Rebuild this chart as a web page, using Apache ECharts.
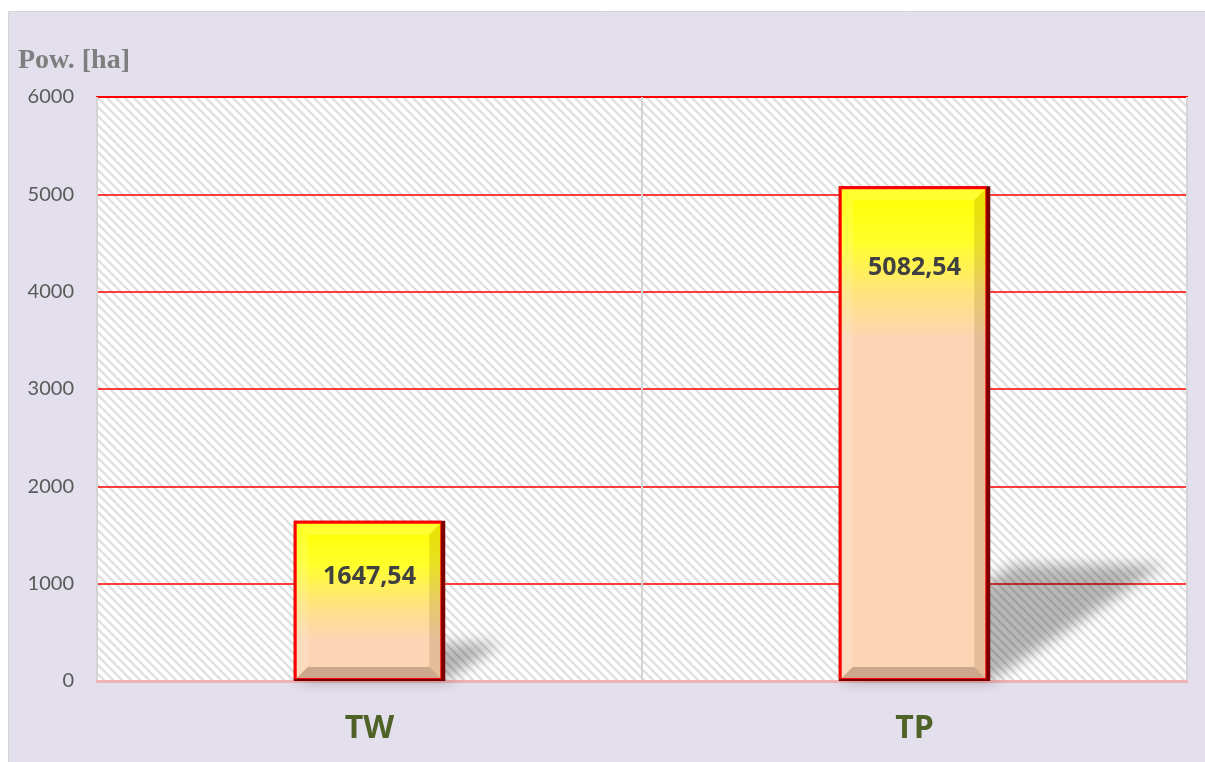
<!DOCTYPE html>
<html>
<head>
<meta charset="utf-8">
<script src="https://cdn.jsdelivr.net/npm/echarts@6/dist/echarts.min.js"></script>
<style>
html,body{margin:0;padding:0;background:#ffffff;}
#chart{width:1205px;height:762px;}
</style>
</head>
<body>
<div id="chart"></div>
<script>
// ---- data ----
const categories = ['TW', 'TP'];
const values = [1647.54, 5082.54];
const valueLabels = ['1647,54', '5082,54'];
const yTickValues = [0, 1000, 2000, 3000, 4000, 5000, 6000];
const axisTitle = 'Pow. [ha]';

// ---- styling helpers ----
const labelOffsets = [56, 82];

function hatchPattern() {
  const c = document.createElement('canvas');
  c.width = 9; c.height = 9;
  const g = c.getContext('2d');
  g.fillStyle = '#ffffff';
  g.fillRect(0, 0, 9, 9);
  g.strokeStyle = '#e0e0e0';
  g.lineWidth = 2.4;
  for (let k = -9; k <= 9; k += 9) {
    g.beginPath();
    g.moveTo(k - 2, -2);
    g.lineTo(k + 11, 11);
    g.stroke();
  }
  return c;
}

const chart = echarts.init(document.getElementById('chart'), null, { renderer: 'canvas' });

function renderBar(params, api) {
  const i = api.value(0);
  const v = api.value(1);
  const top = api.coord([i, v]);
  const base = api.coord([i, 0]);
  const bw = api.size([1, 0])[0] * 0.278;
  const xL = top[0] - bw / 2, xR = top[0] + bw / 2;
  const yT = top[1], yB = base[1];
  const H = yB - yT;
  const sh = H * 0.235, dx = sh * 1.5;
  const OFF = 4000;
  const shadow = {
    type: 'polygon',
    z2: 1,
    shape: { points: [[xL - OFF, yB], [xR - OFF, yB], [xR + dx - OFF, yB - sh], [xL + dx - OFF, yB - sh]] },
    style: { fill: '#000', shadowBlur: 14, shadowColor: 'rgba(0,0,0,0.28)', shadowOffsetX: OFF, shadowOffsetY: 0 }
  };
  const outer = { type: 'rect', z2: 2, shape: { x: xL, y: yT, width: bw, height: H }, style: { fill: '#7a0000' } };
  const red = { type: 'rect', z2: 3, shape: { x: xL, y: yT, width: bw - 4, height: H - 2 }, style: { fill: '#ff0000' } };
  const ix = xL + 3, iy = yT + 3, iw = bw - 8, ih = H - 6;
  const L = Math.min(150, ih * 0.75);
  const body = {
    type: 'rect', z2: 4,
    shape: { x: ix, y: iy, width: iw, height: ih },
    style: {
      fill: {
        type: 'linear', x: 0, y: iy, x2: 0, y2: iy + L, global: true,
        colorStops: [
          { offset: 0, color: '#ffff00' },
          { offset: 0.35, color: '#ffff2a' },
          { offset: 0.7, color: '#ffe380' },
          { offset: 1, color: '#fcd5b5' }
        ]
      }
    }
  };
  const b = 11;
  const bevels = [
    { pts: [[ix, iy], [ix + iw, iy], [ix + iw - b, iy + b], [ix + b, iy + b]], fill: 'rgba(255,255,255,0.18)' },
    { pts: [[ix, iy], [ix + b, iy + b], [ix + b, iy + ih - b], [ix, iy + ih]], fill: 'rgba(255,255,255,0.14)' },
    { pts: [[ix + iw, iy], [ix + iw, iy + ih], [ix + iw - b, iy + ih - b], [ix + iw - b, iy + b]], fill: 'rgba(110,70,0,0.16)' },
    { pts: [[ix, iy + ih], [ix + iw, iy + ih], [ix + iw - b, iy + ih - b], [ix + b, iy + ih - b]], fill: 'rgba(60,40,20,0.26)' }
  ].map(o => ({ type: 'polygon', z2: 5, shape: { points: o.pts }, style: { fill: o.fill } }));
  const label = {
    type: 'text', z2: 6,
    x: top[0], y: yT + labelOffsets[params.dataIndex],
    style: {
      text: valueLabels[params.dataIndex],
      fill: '#404040',
      font: 'bold 25px "Open Sans", Lato, sans-serif',
      align: 'center', verticalAlign: 'middle'
    }
  };
  return { type: 'group', children: [shadow, outer, red, body].concat(bevels, [label]) };
}

const option = {
  backgroundColor: 'transparent',
  animation: false,
  graphic: [{
    type: 'rect', z: -10, silent: true,
    shape: { x: 8.5, y: 11.5, width: 1300, height: 900 },
    style: { fill: '#e4dfec', stroke: '#d6d6d6', lineWidth: 1 }
  }],
  title: {
    text: axisTitle, left: 13, top: 42,
    textStyle: { fontFamily: '"Liberation Serif", serif', fontWeight: 'bold', fontSize: 28, color: '#7f7f7f' }
  },
  grid: {
    left: 97, right: 18, top: 97, bottom: 81,
    show: true,
    backgroundColor: { image: hatchPattern(), repeat: 'repeat' },
    borderColor: '#ff0000', borderWidth: 2
  },
  xAxis: {
    type: 'category',
    data: categories,
    axisTick: { show: false },
    axisLine: { show: true, lineStyle: { color: '#f0b4b8', width: 3 } },
    splitLine: { show: true, lineStyle: { color: '#d4d4d4', width: 2 } },
    axisLabel: { margin: 32, fontFamily: '"Open Sans", Lato, sans-serif', fontWeight: 'bold', fontSize: 32, color: '#4f6228' }
  },
  yAxis: {
    type: 'value',
    min: yTickValues[0], max: yTickValues[yTickValues.length - 1], interval: yTickValues[1] - yTickValues[0],
    axisLine: { show: false },
    axisTick: { show: false },
    splitLine: { show: true, lineStyle: { color: '#ff0000', width: 1.5 } },
    axisLabel: {
      margin: 23, fontFamily: 'Lato, "Open Sans", sans-serif', fontSize: 20, color: '#595959',
      formatter: v => String(v)
    }
  },
  series: [{
    type: 'custom',
    renderItem: renderBar,
    encode: { x: 0, y: 1 },
    data: categories.map((c, i) => [i, values[i]]),
    z: 3
  }]
};
chart.setOption(option);
</script>
</body>
</html>
